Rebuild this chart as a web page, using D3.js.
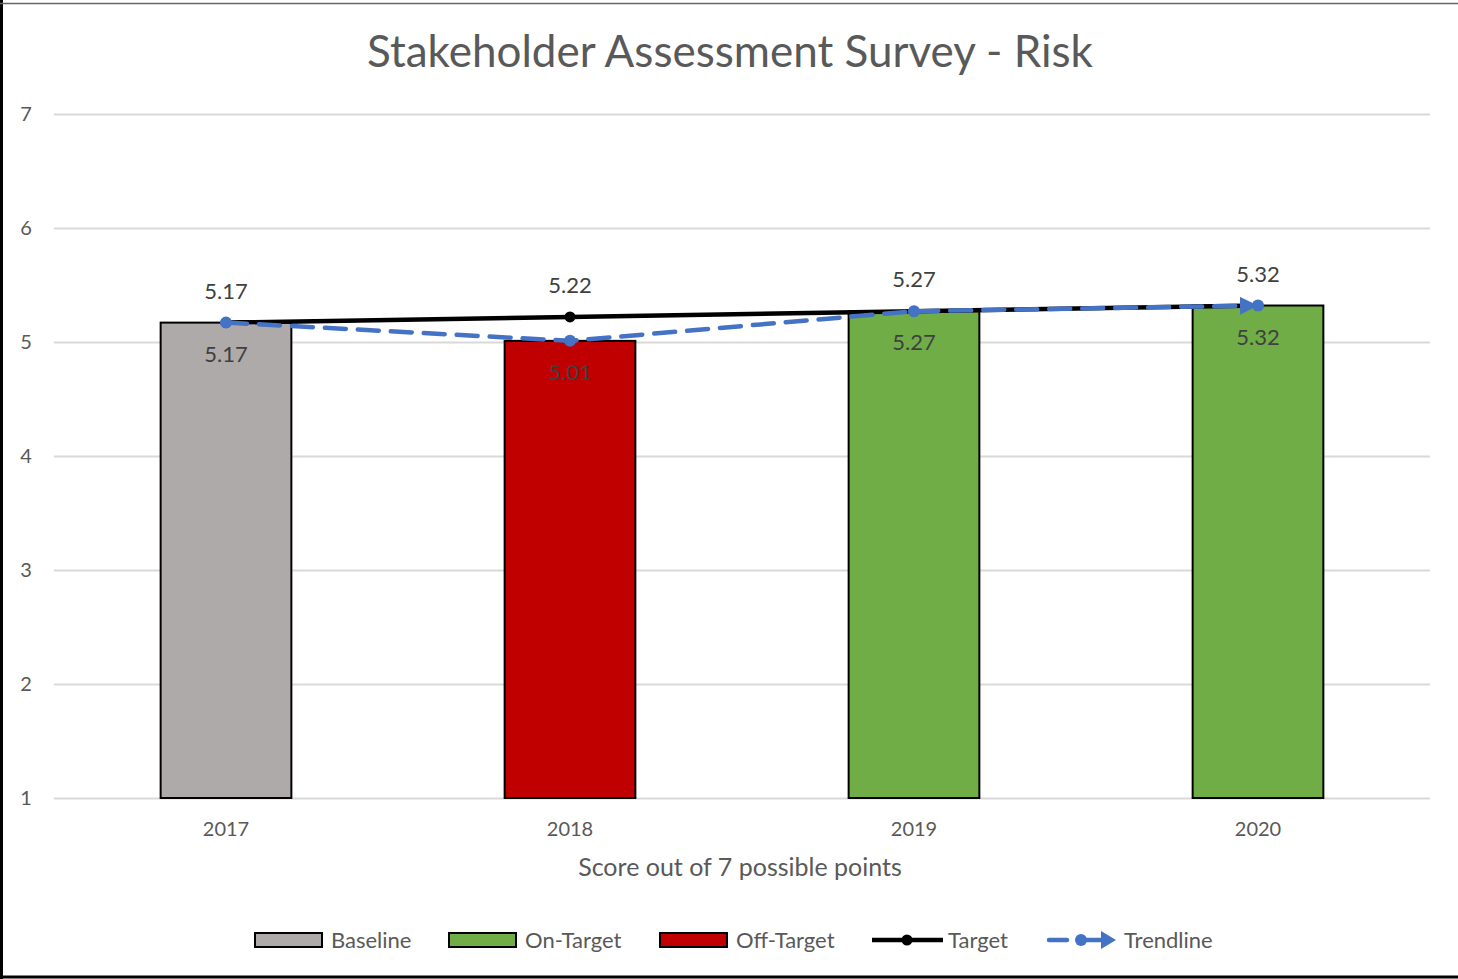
<!DOCTYPE html>
<meta charset="utf-8">
<script src="https://d3js.org/d3.v7.min.js"></script>
<style>
  body { margin: 0; background: #fff; }
  text { font-family: Lato, "Open Sans", sans-serif; }
</style>
<svg id="chart" width="1458" height="979"></svg>
<script>
// data
var years = ["2017", "2018", "2019", "2020"];
var barValues = [5.17, 5.01, 5.27, 5.32];
var barTypes = ["Baseline", "Off-Target", "On-Target", "On-Target"];
var targetValues = [5.17, 5.22, 5.27, 5.32];
var trendValues = [5.17, 5.01, 5.27, 5.32];
var yTicks = [1, 2, 3, 4, 5, 6, 7];
var legendNames = ["Baseline", "On-Target", "Off-Target", "Target", "Trendline"];

var colors = {
  "Baseline": "#AEAAAA",
  "On-Target": "#70AD47",
  "Off-Target": "#C00000"
};

var svg = d3.select("#chart"),
    width = +svg.attr("width"),
    height = +svg.attr("height");

// outer frame (only left, top and bottom show in the picture)
svg.append("line").attr("x1", 1.5).attr("x2", 1.5).attr("y1", 0).attr("y2", height)
    .style("stroke", "#000").style("stroke-width", 3);
svg.append("line").attr("x1", 0).attr("x2", width).attr("y1", 3.5).attr("y2", 3.5)
    .style("stroke", "#666").style("stroke-width", 1.5);
svg.append("line").attr("x1", 0).attr("x2", width).attr("y1", 977).attr("y2", 977)
    .style("stroke", "#000").style("stroke-width", 3);

var x = d3.scaleBand()
    .domain(years)
    .range([54, 1430])
    .paddingInner(0.62)
    .paddingOuter(0.31);

var y = d3.scaleLinear()
    .domain([1, 7])
    .range([798, 114]);

function cx(d) { return x(d) + x.bandwidth() / 2; }

// title
svg.append("text")
    .attr("x", 730).attr("y", 67)
    .attr("text-anchor", "middle")
    .style("font-size", "44px")
    .style("fill", "#595959")
    .text("Stakeholder Assessment Survey - Risk");

// gridlines + y labels
var yAxis = d3.axisLeft(y)
    .tickValues(yTicks)
    .tickSize(-(1430 - 54))
    .tickPadding(22)
    .tickFormat(d3.format("d"));

var gy = svg.append("g")
    .attr("transform", "translate(54,0)")
    .call(yAxis);
gy.select(".domain").remove();
gy.selectAll(".tick line").style("stroke", "#D9D9D9").style("stroke-width", 2);
gy.selectAll(".tick text")
    .style("font-size", "20px")
    .style("fill", "#595959")
    .attr("text-anchor", "middle")
    .attr("x", -28);

// x axis labels
var xAxis = d3.axisBottom(x).tickSize(0).tickPadding(24);
var gx = svg.append("g")
    .attr("transform", "translate(0,798)")
    .call(xAxis);
gx.select(".domain").remove();
gx.selectAll(".tick text")
    .style("font-size", "20px")
    .style("fill", "#595959");

svg.append("text")
    .attr("x", 740).attr("y", 876)
    .attr("text-anchor", "middle")
    .style("font-size", "25px")
    .style("fill", "#595959")
    .text("Score out of 7 possible points");

// bars
svg.append("g")
  .selectAll("rect")
  .data(years)
  .enter().append("rect")
    .attr("x", function(d) { return x(d); })
    .attr("y", function(d, i) { return y(barValues[i]); })
    .attr("width", x.bandwidth())
    .attr("height", function(d, i) { return y(1) - y(barValues[i]); })
    .style("fill", function(d, i) { return colors[barTypes[i]]; })
    .style("stroke", "#000")
    .style("stroke-width", 2);

// bar labels (inside, below top)
svg.append("g")
  .selectAll("text")
  .data(years)
  .enter().append("text")
    .attr("x", cx)
    .attr("y", function(d, i) { return y(barValues[i]) + 39; })
    .attr("text-anchor", "middle")
    .style("font-size", "22px")
    .style("fill", "#404040")
    .text(function(d, i) { return barValues[i].toFixed(2); });

// target line
var line = d3.line()
    .x(function(d) { return cx(d.year); })
    .y(function(d) { return y(d.value); });

var targetData = years.map(function(d, i) { return {year: d, value: targetValues[i]}; });
var trendData = years.map(function(d, i) { return {year: d, value: trendValues[i]}; });

svg.append("path")
    .datum(targetData)
    .attr("d", line)
    .style("fill", "none")
    .style("stroke", "#000")
    .style("stroke-width", 4.5);

svg.append("g")
  .selectAll("circle")
  .data(targetData)
  .enter().append("circle")
    .attr("cx", function(d) { return cx(d.year); })
    .attr("cy", function(d) { return y(d.value); })
    .attr("r", 5.5)
    .style("fill", "#000");

// target labels (above)
svg.append("g")
  .selectAll("text")
  .data(targetData)
  .enter().append("text")
    .attr("x", function(d) { return cx(d.year); })
    .attr("y", function(d) { return y(d.value) - 24; })
    .attr("text-anchor", "middle")
    .style("font-size", "22px")
    .style("fill", "#404040")
    .text(function(d) { return d.value.toFixed(2); });

// trendline, dashed with arrow at the end
var defs = svg.append("defs");
defs.append("marker")
    .attr("id", "arrow")
    .attr("viewBox", "0 0 10 10")
    .attr("refX", 10).attr("refY", 5)
    .attr("markerWidth", 4).attr("markerHeight", 4)
    .attr("markerUnits", "strokeWidth")
    .attr("orient", "auto")
  .append("path")
    .attr("d", "M0,0 L10,5 L0,10 Z")
    .style("fill", "#4472C4");

svg.append("path")
    .datum(trendData)
    .attr("d", line)
    .style("fill", "none")
    .style("stroke", "#4472C4")
    .style("stroke-width", 4.5)
    .style("stroke-dasharray", "21,12")
    .style("stroke-linecap", "round")
    .attr("marker-end", "url(#arrow)");

svg.append("g")
  .selectAll("circle")
  .data(trendData)
  .enter().append("circle")
    .attr("cx", function(d) { return cx(d.year); })
    .attr("cy", function(d) { return y(d.value); })
    .attr("r", 6)
    .style("fill", "#4472C4");

// legend
var legendX = [255, 449, 660, 872, 1047];
var legend = svg.append("g")
  .selectAll("g")
  .data(legendNames)
  .enter().append("g")
    .attr("transform", function(d, i) { return "translate(" + legendX[i] + ",940)"; });

legend.each(function(d) {
  var g = d3.select(this);
  if (colors[d]) {
    g.append("rect")
        .attr("x", 0).attr("y", -7)
        .attr("width", 67).attr("height", 14)
        .style("fill", colors[d])
        .style("stroke", "#000")
        .style("stroke-width", 2);
    g.append("text").attr("x", 76).attr("y", 8)
        .style("font-size", "22px").style("fill", "#595959").text(d);
  } else if (d === "Target") {
    g.append("line").attr("x1", 0).attr("x2", 71).attr("y1", 0).attr("y2", 0)
        .style("stroke", "#000").style("stroke-width", 4.5);
    g.append("circle").attr("cx", 35).attr("cy", 0).attr("r", 5.5).style("fill", "#000");
    g.append("text").attr("x", 76).attr("y", 8)
        .style("font-size", "22px").style("fill", "#595959").text(d);
  } else {
    g.append("line").attr("x1", 2).attr("x2", 20).attr("y1", 0).attr("y2", 0)
        .style("stroke", "#4472C4").style("stroke-width", 4.5).style("stroke-linecap", "round");
    g.append("line").attr("x1", 34).attr("x2", 58).attr("y1", 0).attr("y2", 0)
        .style("stroke", "#4472C4").style("stroke-width", 4.5);
    g.append("path").attr("d", "M54,-9 L69,0 L54,9 Z").style("fill", "#4472C4");
    g.append("circle").attr("cx", 34).attr("cy", 0).attr("r", 6).style("fill", "#4472C4");
    g.append("text").attr("x", 77).attr("y", 8)
        .style("font-size", "22px").style("fill", "#595959").text(d);
  }
});
</script>
